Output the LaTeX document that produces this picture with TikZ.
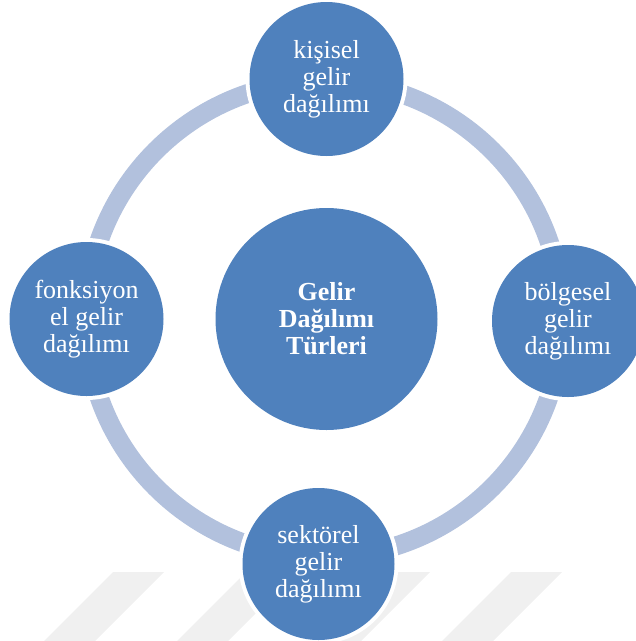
\documentclass[tikz,border=0pt]{standalone}
\usepackage{fontspec}
\setmainfont{Liberation Serif}
\definecolor{cblue}{RGB}{79,129,189}
\definecolor{ringblue}{RGB}{178,193,221}
\definecolor{stripegray}{RGB}{240,240,240}
\begin{document}
\begin{tikzpicture}[x=1pt,y=-1pt,
  bubble/.style={circle, fill=cblue, inner sep=0pt, align=center, text=white,
    preaction={draw=white, line width=8pt},
    font=\fontsize{26}{27}\selectfont},
  ring/.style={draw=ringblue, line width=19pt}]
\useasboundingbox (0,0) rectangle (636,641);
% watermark stripes
\foreach \t in {113,246,379,511}{
  \fill[stripegray] (\t,572) -- (\t+51,572) -- (\t+51-69,641) -- (\t-69,641) -- cycle;
}
% ring
\coordinate (rc) at (324,319);
\draw[ring] (rc) circle[radius=238];
% nodes
\node[bubble, minimum size=154pt] (top) at (326.5,79) {kişisel\\gelir\\dağılımı};
\node[bubble, minimum size=152pt] (right) at (568,321) {bölgesel\\gelir\\dağılımı};
\node[bubble, minimum size=152pt] (bottom) at (318.5,564) {sektörel\\gelir\\dağılımı};
\node[bubble, minimum size=154pt] (left) at (86.5,319) {fonksiyon\\el gelir\\dağılımı};
\node[bubble, minimum size=222pt, font=\bfseries\fontsize{26}{27}\selectfont] (center) at (326.5,319) {Gelir\\Dağılımı\\Türleri};
\end{tikzpicture}
\end{document}
